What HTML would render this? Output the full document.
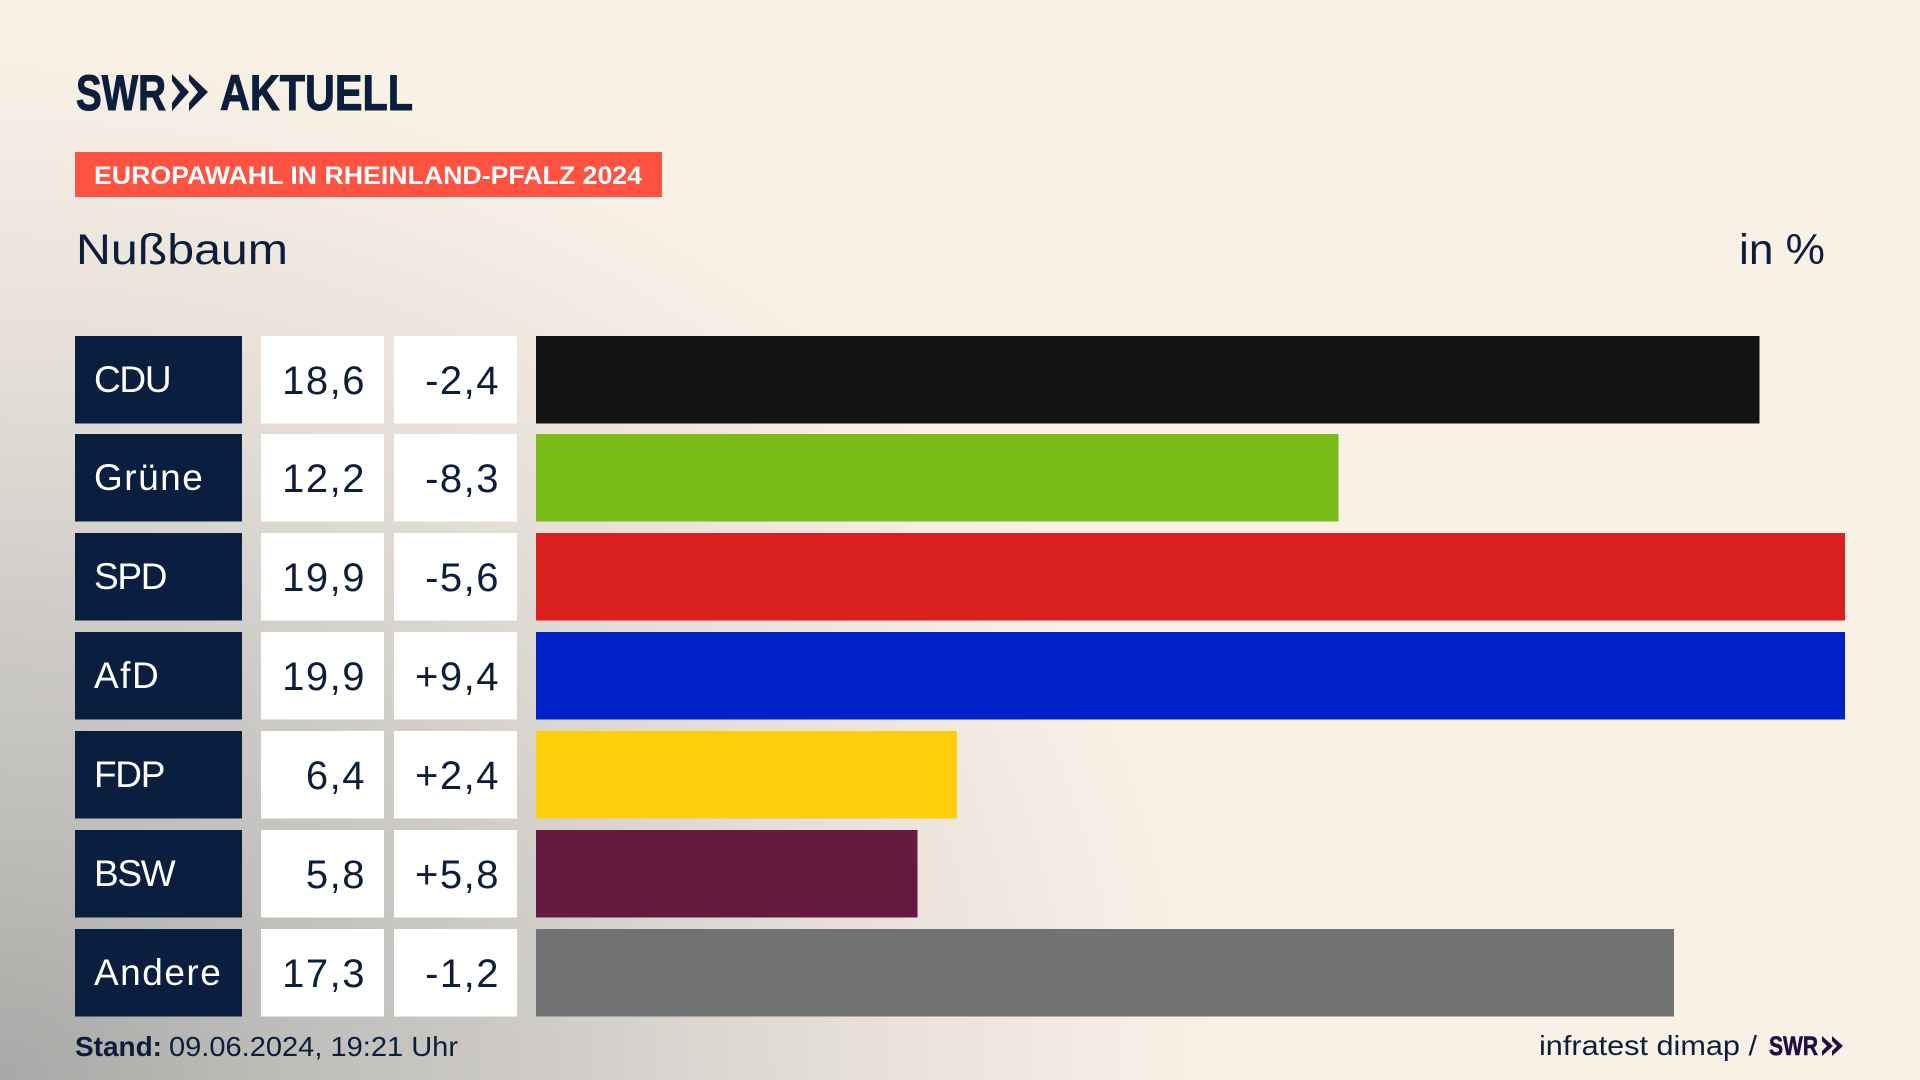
<!DOCTYPE html>
<html lang="de">
<head>
<meta charset="utf-8">
<title>Europawahl in Rheinland-Pfalz 2024 – Nußbaum</title>
<style>
html,body{margin:0;padding:0;width:1920px;height:1080px;overflow:hidden;background:#faf1e6}
#bg{position:absolute;left:0;top:0;width:1920px;height:1080px;
background:radial-gradient(ellipse 1240px 1060px at 0px 1080px,#a8a8a6 0%,#bdbcb9 22%,#d0cdc8 45%,#e5dfd8 68%,#f5ede3 90%,#faf1e6 100%)}
svg{position:absolute;left:0;top:0}
text{font-family:"Liberation Sans",sans-serif;fill:#0b1f3c}
.label-text{font-size:37px;fill:#fff;letter-spacing:1.5px}
.label-text.caps{letter-spacing:-1.3px}
.num-text{font-size:40px;letter-spacing:1.5px;text-anchor:end}
.logo-text{stroke:#0b1f3c;stroke-width:1px}
.bar-cdu{fill:#141414}.bar-grüne{fill:#7abd1a}.bar-spd{fill:#d9201f}.bar-afd{fill:#0020c8}
.bar-fdp{fill:#ffce0a}.bar-bsw{fill:#671a3f}.bar-andere{fill:#717273}
</style>
</head>
<body>
<div id="bg"></div>
<svg id="chart" width="1920" height="1080" viewBox="0 0 1920 1080" xmlns="http://www.w3.org/2000/svg">
  <g>
    <text class="logo-text" x="76" y="110" font-size="50" font-weight="700" textLength="90" lengthAdjust="spacingAndGlyphs">SWR</text>
    <polygon points="172,74 189,92 172,111 172,103 180,92 172,81" fill="#0b1f3c"/>
    <polygon points="189,74 208,92 189,111 189,103 198,92 189,81" fill="#0b1f3c"/>
    <text class="logo-text" x="220" y="110" font-size="50" font-weight="700" textLength="193" lengthAdjust="spacingAndGlyphs">AKTUELL</text>
  </g>
  <rect x="75" y="152" width="587" height="45" fill="#ff5240"/>
  <text x="94" y="184" font-size="25" font-weight="700" style="fill:#fff" textLength="548" lengthAdjust="spacingAndGlyphs">EUROPAWAHL IN RHEINLAND-PFALZ 2024</text>
  <text x="76" y="264" font-size="43" textLength="212" lengthAdjust="spacingAndGlyphs">Nußbaum</text>
  <text x="1739" y="264" font-size="43" textLength="86" lengthAdjust="spacingAndGlyphs">in %</text>
  <g id="rows"></g>
  <text x="75" y="1056" font-size="28" font-weight="700" textLength="87" lengthAdjust="spacingAndGlyphs">Stand:</text>
  <text x="169" y="1056" font-size="28" textLength="289" lengthAdjust="spacingAndGlyphs">09.06.2024, 19:21 Uhr</text>
  <text x="1539" y="1055" font-size="28" textLength="218" lengthAdjust="spacingAndGlyphs">infratest dimap /</text>
  <text x="1769" y="1055" font-size="27" font-weight="700" style="fill:#1f0f44;stroke:#1f0f44;stroke-width:.6px" textLength="49" lengthAdjust="spacingAndGlyphs">SWR</text>
  <polygon points="1822,1036 1833,1046 1822,1056 1822,1051 1827,1046 1822,1041" fill="#1f0f44"/>
  <polygon points="1832,1036 1843,1046 1832,1056 1832,1051 1837,1046 1832,1041" fill="#1f0f44"/>
</svg>
<script>
var parties = ["CDU", "Grüne", "SPD", "AfD", "FDP", "BSW", "Andere"];
var shares = [18.6, 12.2, 19.9, 19.9, 6.4, 5.8, 17.3];
var changes = [-2.4, -8.3, -5.6, 9.4, 2.4, 5.8, -1.2];

var NS = "http://www.w3.org/2000/svg";
var rowsGroup = document.getElementById("rows");

function xScale(v) { return 536 + v * (1309 / 19.9); }
function yScale(i) { return Math.round(335.6 + i * 98.83); }
var rowHeight = 87.5;

function formatShare(v) { return v.toFixed(1).replace(".", ","); }
function formatChange(v) { return (v > 0 ? "+" : "") + v.toFixed(1).replace(".", ","); }

function makeRect(x, y, w, h, fill) {
  var r = document.createElementNS(NS, "rect");
  r.setAttribute("x", x);
  r.setAttribute("y", y);
  r.setAttribute("width", w);
  r.setAttribute("height", h);
  if (fill) r.setAttribute("fill", fill);
  return r;
}
function makeText(x, y, cls, str) {
  var t = document.createElementNS(NS, "text");
  t.setAttribute("x", x);
  t.setAttribute("y", y);
  t.setAttribute("class", cls);
  t.textContent = str;
  return t;
}

parties.forEach(function (party, i) {
  var key = party.toLowerCase();
  var y = yScale(i);
  var slug = key.replace("ü", "ue");
  var labelClass = /[a-zü]/.test(party) ? "label-text" : "label-text caps";

  var labelBox = makeRect(75, y, 167, rowHeight, "#0a1f3f");
  
  
  rowsGroup.appendChild(labelBox);

  var labelText = makeText(94, y + 56, labelClass, party);
  
  
  rowsGroup.appendChild(labelText);

  var shareBox = makeRect(261, y, 123, rowHeight, "#ffffff");
  
  
  rowsGroup.appendChild(shareBox);

  var shareText = makeText(366, y + 58, "num-text", formatShare(shares[i]));
  
  
  rowsGroup.appendChild(shareText);

  var changeBox = makeRect(394, y, 123, rowHeight, "#ffffff");
  
  
  rowsGroup.appendChild(changeBox);

  var changeText = makeText(500, y + 58, "num-text", formatChange(changes[i]));
  
  
  rowsGroup.appendChild(changeText);

  var bar = makeRect(xScale(0), y, xScale(shares[i]) - xScale(0), rowHeight);
  bar.setAttribute("class", "bar-" + key);
  
  
  rowsGroup.appendChild(bar);
});
</script>
</body>
</html>
